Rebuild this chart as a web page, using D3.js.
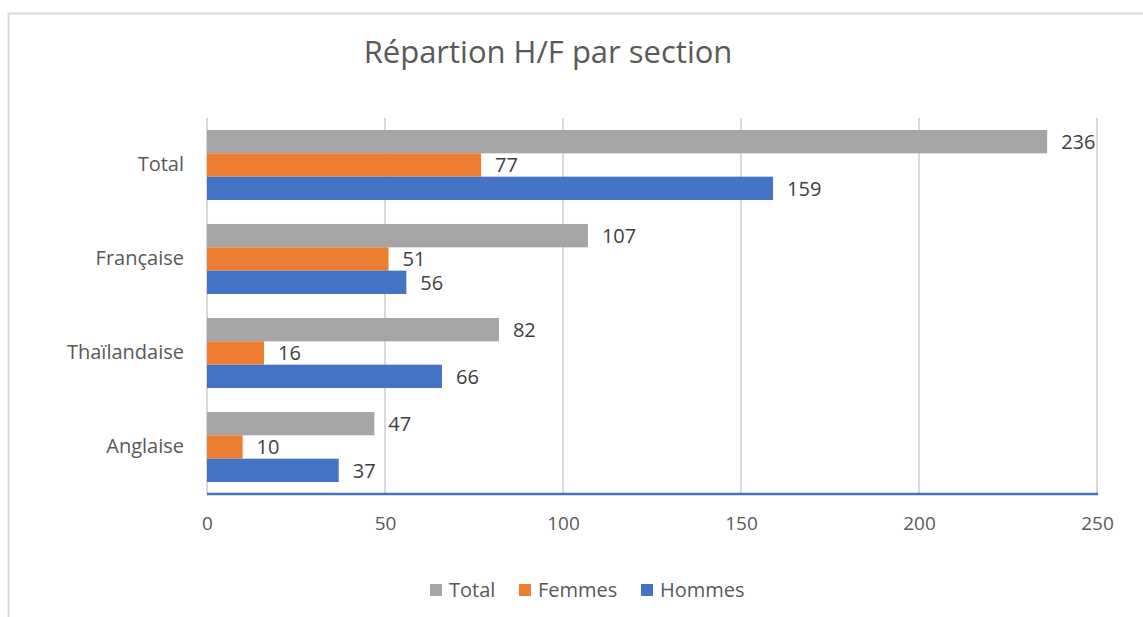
<!DOCTYPE html>
<html><head><meta charset="utf-8">
<script src="https://cdn.jsdelivr.net/npm/d3@7"></script>
<style>
html,body{margin:0;padding:0;background:#fff;}
svg{display:block;font-family:"Open Sans","Noto Sans",sans-serif;}
</style></head>
<body>
<svg id="c" width="1143" height="617"></svg>
<script>
const categories = ["Total", "Française", "Thaïlandaise", "Anglaise"];
const seriesNames = ["Total", "Femmes", "Hommes"];
const totalValues = [236, 107, 82, 47];
const femmesValues = [77, 51, 16, 10];
const hommesValues = [159, 56, 66, 37];
const xTicks = [0, 50, 100, 150, 200, 250];
const colors = {Total: "#A5A5A5", Femmes: "#ED7D31", Hommes: "#4472C4"};
const title = "Répartion H/F par section";

const seriesValues = {Total: totalValues, Femmes: femmesValues, Hommes: hommesValues};

const svg = d3.select("#c");
// outer border
svg.append("rect").attr("x", 8.5).attr("y", 13.5).attr("width", 1200).attr("height", 700)
  .attr("fill", "none").attr("stroke", "#D9D9D9").attr("stroke-width", 2);

const pLeft = 207, pRight = 1097, pTop = 118, pBottom = 494;
const x = d3.scaleLinear().domain([0, 250]).range([pLeft, pRight]);
const y = d3.scaleBand().domain(categories).range([pTop, pBottom]).paddingInner(0.255).paddingOuter(0.1275);
const ys = d3.scaleBand().domain(seriesNames).range([0, y.bandwidth()]);

// gridlines
svg.append("g").selectAll("line").data(xTicks).join("line")
  .attr("x1", d => x(d)).attr("x2", d => x(d)).attr("y1", pTop).attr("y2", pBottom)
  .attr("stroke", "#D9D9D9").attr("stroke-width", 2);

// bars
const g = svg.append("g");
categories.forEach((cat, i) => {
  seriesNames.forEach(s => {
    const v = seriesValues[s][i];
    const by = y(cat) + ys(s);
    g.append("rect").attr("x", x(0)).attr("y", by).attr("width", x(v) - x(0)).attr("height", ys.bandwidth())
      .attr("fill", colors[s]);
    g.append("text").attr("x", x(v) + 14).attr("y", by + ys.bandwidth() / 2).attr("dy", "0.36em")
      .attr("font-size", 20).attr("fill", "#404040").text(v);
  });
});

// x axis line
svg.append("line").attr("x1", pLeft).attr("x2", pRight + 1).attr("y1", pBottom).attr("y2", pBottom)
  .attr("stroke", "#4472C4").attr("stroke-width", 2.5);

// x tick labels
const xAxis = d3.axisBottom(x).tickValues(xTicks).tickSize(0).tickPadding(23);
const ax = svg.append("g").attr("transform", `translate(0,${pBottom})`).call(xAxis);
ax.select(".domain").remove();
ax.selectAll("text").attr("font-size", 19).attr("fill", "#595959").attr("font-family", "Open Sans, Noto Sans, sans-serif");

// y labels
const yAxis = d3.axisLeft(y).tickSize(0).tickPadding(23);
const ay = svg.append("g").attr("transform", `translate(${pLeft},0)`).call(yAxis);
ay.select(".domain").remove();
ay.selectAll("text").attr("font-size", 20).attr("fill", "#595959").attr("font-family", "Open Sans, Noto Sans, sans-serif");

// title
svg.append("text").attr("x", 548).attr("y", 63).attr("text-anchor", "middle")
  .attr("font-size", 31).attr("fill", "#595959").text(title);

// legend
const legendX = [430, 519, 641];
const lg = svg.append("g");
seriesNames.forEach((s, i) => {
  lg.append("rect").attr("x", legendX[i]).attr("y", 584).attr("width", 12).attr("height", 12).attr("fill", colors[s]);
  lg.append("text").attr("x", legendX[i] + 19).attr("y", 590).attr("dy", "0.36em")
    .attr("font-size", 20).attr("fill", "#595959").text(s);
});
</script>
</body></html>
